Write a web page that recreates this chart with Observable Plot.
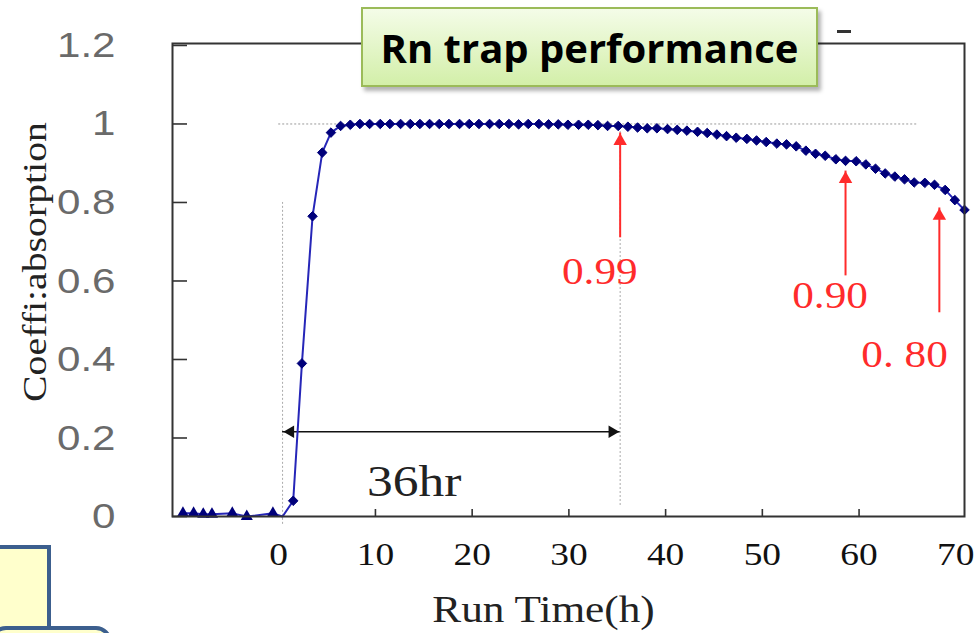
<!DOCTYPE html>
<html><head><meta charset="utf-8">
<script src="https://cdn.jsdelivr.net/npm/d3@7"></script>
<script src="https://cdn.jsdelivr.net/npm/@observablehq/plot@0.6"></script>
<style>
body{margin:0;background:#fff}
#wrap{position:relative;width:978px;height:633px;overflow:hidden;background:#fff}
#chart svg{display:block;background:#fff}
.title{position:absolute;left:361px;top:7px;width:457px;height:80px;box-sizing:border-box;border:2px solid #9bbb59;background:linear-gradient(#f4fce8,#d3efa9);box-shadow:3px 4px 4px rgba(0,0,0,.3);font:700 40px "Open Sans",sans-serif;color:#000;display:flex;align-items:center;justify-content:center;white-space:nowrap}
.dash{position:absolute;left:837px;top:30px;width:14px;height:2.5px;background:#333}
.boxA{position:absolute;left:-10px;top:545px;width:61px;height:120px;box-sizing:border-box;border:4px solid #3c5f8e;background:#ffffcc}
.boxB{position:absolute;left:-10px;top:626px;width:122px;height:80px;box-sizing:border-box;border:4px solid #3c5f8e;border-radius:16px;background:#ffffcc}
</style></head>
<body><div id="wrap"><div id="chart"></div>
<div class="title">Rn trap performance</div>
<div class="dash"></div>
<div class="boxA"></div><div class="boxB"></div>
</div>
<script>
// ---- data (hours, coefficient of absorption) ----
const preTime  = [-9.9, -8.8, -7.8, -6.9, -4.8, -3.3, -0.6];
const preValue = [0.008, 0.008, 0.006, 0.006, 0.008, 0.0, 0.008];
const startTime = [0.4];
const startValue = [0.0];
const runTime = [1.5, 2.4, 3.5, 4.5, 5.4, 6.4,
  7.4, 8.4, 9.4, 10.5, 11.5, 12.6, 13.6, 14.6, 15.6, 16.6, 17.6, 18.7, 19.7, 20.7,
  21.8, 22.8, 23.8, 24.8, 25.8, 26.9, 27.9, 28.9, 29.9, 31.0, 32.0, 33.0, 34.0,
  35.1, 36.1, 37.1, 38.1, 39.1, 40.2, 41.2, 42.2, 43.3, 44.3, 45.3, 46.3, 47.3,
  48.4, 49.4, 50.4, 51.5, 52.5, 53.5, 54.5, 55.5, 56.5, 57.6, 58.6, 59.7, 60.7,
  61.7, 62.7, 63.7, 64.7, 65.7, 66.8, 67.8, 68.9, 69.9, 70.9];
const runValue = [0.04, 0.39, 0.765, 0.927, 0.978, 0.995,
  0.998, 1.0, 1.0, 1.0, 1.0, 1.0, 1.0, 1.0, 1.0, 1.0, 1.0, 1.0, 1.0, 1.0,
  1.0, 1.0, 1.0, 0.999, 1.0, 1.0, 0.999, 0.999, 0.998, 0.998, 0.998, 0.997, 0.995,
  0.995, 0.993, 0.991, 0.989, 0.989, 0.987, 0.985, 0.983, 0.980, 0.977, 0.973, 0.969, 0.965,
  0.962, 0.958, 0.954, 0.950, 0.948, 0.943, 0.932, 0.924, 0.919, 0.910, 0.906, 0.905, 0.897,
  0.886, 0.874, 0.866, 0.859, 0.851, 0.850, 0.845, 0.832, 0.806, 0.781];

const xTickValues = [0, 10, 20, 30, 40, 50, 60, 70];
const xTickMarks = [10, 20, 30, 40, 50, 60];
const yTickValues = [0, 0.2, 0.4, 0.6, 0.8, 1, 1.2];
const yTickLabels = ["0", "0.2", "0.4", "0.6", "0.8", "1", "1.2"];
const xLabel = "Run Time(h)";
const yLabel = "Coeffi:absorption";

// annotations
const refLevel = 1;          // horizontal dotted reference
const refFrom = 0, refTo = 66;
const startGuide = 0.4;      // vertical dotted at run start
const spanStart = 0.4, spanEnd = 35.3, spanLevel = 0.216;
const spanText = "36hr", spanTextTime = 14.0, spanTextValue = 0.089;
const arrowTime  = [35.3, 58.6, 68.3];
const arrowFrom  = [0.71, 0.613, 0.519];
const arrowTo    = [0.977, 0.88, 0.786];
const arrowLabels = ["0.99", "0.90", "0. 80"];
const labelTime  = [33.2, 57.0, 64.7];
const labelValue = [0.623, 0.562, 0.41];

// ---- build ----
const pre = preTime.map((t, i) => ({t, v: preValue[i]}));
const run = runTime.map((t, i) => ({t, v: runValue[i]}));
const all = [...pre, ...startTime.map((t, i) => ({t, v: startValue[i]})), ...run];
const idx = d3.range(arrowTime.length);
const navy = "#00007a";
const red = "#ff2b2b";
const serif = "Liberation Serif, Times New Roman, serif";

const plot = Plot.plot({
  width: 978, height: 633,
  marginLeft: 172, marginRight: 14, marginTop: 43, marginBottom: 117,
  x: {domain: [-10.98, 70.9]},
  y: {domain: [0, 1.205]},
  marks: [
    Plot.ruleY([refLevel], {x1: refFrom, x2: refTo, stroke: "#999", strokeWidth: 1, strokeDasharray: "2,2"}),
    Plot.ruleX([startGuide], {y1: -0.02, y2: 0.8, stroke: "#aaa", strokeWidth: 1, strokeDasharray: "2,2"}),
    Plot.ruleX([spanEnd], {y1: 0.028, y2: 0.99, stroke: "#aaa", strokeWidth: 1, strokeDasharray: "2,2"}),
    // 36hr span arrow
    Plot.ruleY([spanLevel], {x1: spanStart, x2: spanEnd, stroke: "#111", strokeWidth: 1.6}),
    Plot.dot([spanStart], {x: d => d, y: spanLevel, symbol: "triangle", r: 4.6, rotate: -90, fill: "#111", dx: 8}),
    Plot.dot([spanEnd], {x: d => d, y: spanLevel, symbol: "triangle", r: 4.6, rotate: 90, fill: "#111", dx: -8}),
    Plot.text([spanText], {x: spanTextTime, y: spanTextValue, text: d => d, fontSize: 44, fontFamily: serif, fill: "#222"}),
    // red arrows
    Plot.ruleX(idx, {x: i => arrowTime[i], y1: i => arrowFrom[i], y2: i => arrowTo[i], stroke: red, strokeWidth: 2}),
    Plot.dot(idx, {x: i => arrowTime[i], y: i => arrowTo[i], symbol: "triangle", r: 5, fill: red, dy: 8}),
    Plot.text(idx, {x: i => labelTime[i], y: i => labelValue[i], text: i => arrowLabels[i], fontSize: 37, fontFamily: serif, fill: red}),
    // series
    Plot.line(all, {x: "t", y: "v", stroke: "#2626b8", strokeWidth: 2}),
    Plot.dot(run, {x: "t", y: "v", symbol: "diamond2", r: 4.3, fill: navy, stroke: navy, strokeWidth: 1}),
    Plot.dot(pre, {x: "t", y: "v", symbol: "triangle", r: 4.5, fill: navy}),
    // frame & axes
    Plot.frame({stroke: "#333", strokeWidth: 2}),
    Plot.axisY(yTickValues, {tickSize: 15, dx: 15, tickFormat: () => "", stroke: "#333", strokeWidth: 1.6, label: null}),
    Plot.axisY(yTickValues, {tickSize: 0, tickPadding: 57, tickFormat: d => yTickLabels[yTickValues.indexOf(d)], fontSize: 36, fontFamily: "Liberation Sans, Arial, sans-serif", fill: "#6a6a6a", label: null}),
    Plot.axisX(xTickMarks, {tickSize: 7, dy: -7, tickFormat: () => "", stroke: "#333", strokeWidth: 1.6, label: null}),
    Plot.axisX(xTickValues, {tickSize: 0, tickPadding: 26, tickFormat: d => String(d), fontSize: 32, fontFamily: serif, fill: "#111", label: null}),
    Plot.text([yLabel], {frameAnchor: "left", textAnchor: "middle", lineAnchor: "middle", text: d => d, rotate: -90, dx: -137, dy: -18, fontSize: 34, fontFamily: serif, fill: "#222"}),
    Plot.text([xLabel], {frameAnchor: "bottom", textAnchor: "middle", lineAnchor: "middle", text: d => d, dx: -25, dy: 94, fontSize: 37, fontFamily: serif, fill: "#222"})
  ]
});

// horizontal stretch of the glyphs, as in the reference picture
const s = 1.17;
plot.querySelectorAll("text").forEach(t => {
  const x = +t.getAttribute("x") || 0, y = +t.getAttribute("y") || 0;
  const tr = t.getAttribute("transform") || "";
  t.setAttribute("transform", `${tr} translate(${x},${y}) scale(${s},1) translate(${-x},${-y})`);
});
document.getElementById("chart").appendChild(plot);
</script>
</body></html>
